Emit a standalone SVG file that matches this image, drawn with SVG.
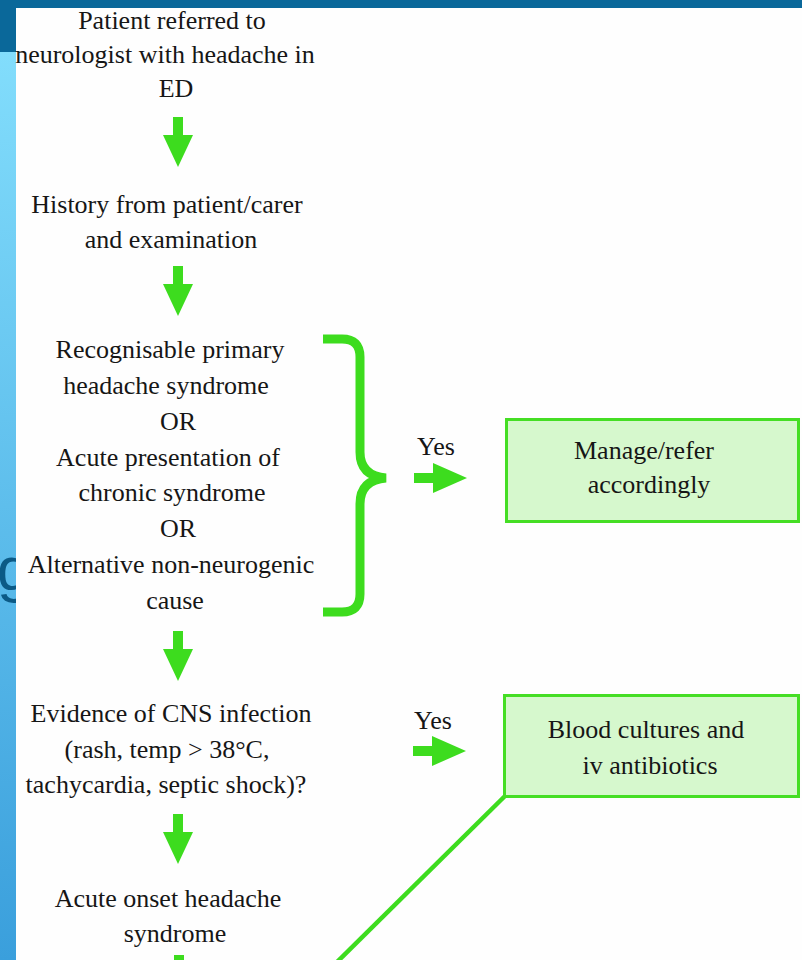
<svg xmlns="http://www.w3.org/2000/svg" xmlns:xlink="http://www.w3.org/1999/xlink" width="802" height="960" viewBox="0 0 802 960">
<style>
.t{font-family:"Liberation Serif","Times New Roman",serif;font-size:26px;fill:#161616;text-anchor:middle}
.ar{fill:#3ddc1e}
.box{fill:#d6f8cd;stroke:#45de24;stroke-width:3}
.ln{fill:none;stroke:#3ddc1e;stroke-linecap:butt}
</style>
<defs>
<linearGradient id="strip" gradientUnits="userSpaceOnUse" x1="0" y1="52" x2="0" y2="960">
<stop offset="0" stop-color="#82ddfc"/>
<stop offset="1" stop-color="#3a9fdc"/>
</linearGradient>
<path id="dn" d="M-5,0 H5 V18 H15 L0,50 L-15,18 H-5 Z"/>
<path id="rt" d="M0,-5 H19 V-15 L53,0 L19,15 V5 H0 Z"/>
</defs>
<g id="background">
<rect x="0" y="0" width="802" height="960" fill="#0a689a"/>
<rect x="0" y="52" width="16" height="908" fill="url(#strip)"/>
<text x="-3" y="590" style="font-family:'Liberation Sans',Arial,sans-serif;font-size:62px;fill:#0b5a86">g</text>
<rect x="16" y="8" width="786" height="952" fill="#fefefe"/>
</g>
<g id="connectors">
<use xlink:href="#dn" class="ar" x="178" y="117"/>
<use xlink:href="#dn" class="ar" x="178" y="266"/>
<use xlink:href="#dn" class="ar" x="178" y="631"/>
<use xlink:href="#dn" class="ar" x="178" y="814"/>
<use xlink:href="#dn" class="ar" x="179" y="955"/>
<use xlink:href="#rt" class="ar" x="414" y="478"/>
<use xlink:href="#rt" class="ar" x="413" y="751"/>
<path class="ln" d="M323,339 H342 Q360,339 360,357 V452 Q360,476 386,478 Q360,480 360,504 V594 Q360,612 342,612 H323" stroke-width="9"/>
<path class="ln" d="M505,796 L333,966" stroke-width="4.5"/>
<text class="t" x="436" y="455">Yes</text>
<text class="t" x="433" y="729">Yes</text>
</g>
<g id="node-referred">
<text class="t" x="172" y="29">Patient referred to</text>
<text class="t" x="165" y="63">neurologist with headache in</text>
<text class="t" x="176" y="97">ED</text>
</g>
<g id="node-history">
<text class="t" x="167" y="213">History from patient/carer</text>
<text class="t" x="171" y="248">and examination</text>
</g>
<g id="node-primary">
<text class="t" x="170" y="358">Recognisable primary</text>
<text class="t" x="166" y="394">headache syndrome</text>
<text class="t" x="178" y="430">OR</text>
<text class="t" x="168" y="466">Acute presentation of</text>
<text class="t" x="172" y="501">chronic syndrome</text>
<text class="t" x="178" y="537">OR</text>
<text class="t" x="171" y="573">Alternative non-neurogenic</text>
<text class="t" x="175" y="609">cause</text>
</g>
<g id="node-manage">
<rect class="box" x="506.5" y="419.5" width="292" height="102"/>
<text class="t" x="644" y="459">Manage/refer</text>
<text class="t" x="649" y="493">accordingly</text>
</g>
<g id="node-cns">
<text class="t" x="171" y="722">Evidence of CNS infection</text>
<text class="t" x="167" y="758">(rash, temp &gt; 38°C,</text>
<text class="t" x="166" y="793">tachycardia, septic shock)?</text>
</g>
<g id="node-blood">
<rect class="box" x="504.5" y="695.5" width="294" height="101"/>
<text class="t" x="646" y="738">Blood cultures and</text>
<text class="t" x="650" y="774">iv antibiotics</text>
</g>
<g id="node-acute">
<text class="t" x="168" y="907">Acute onset headache</text>
<text class="t" x="175" y="942">syndrome</text>
</g>
</svg>
